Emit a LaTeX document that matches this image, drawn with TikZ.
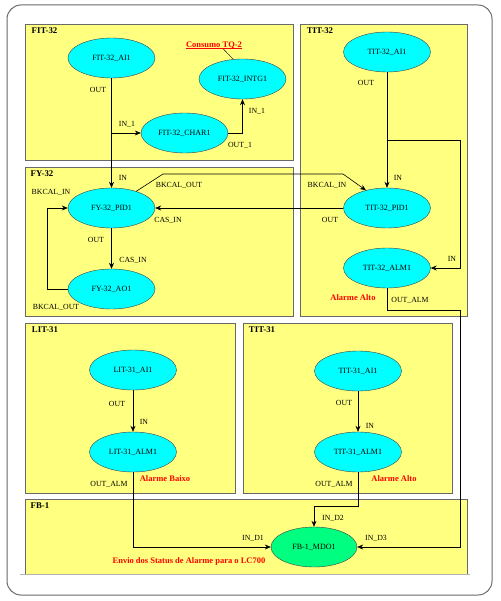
\documentclass[tikz,border=0pt]{standalone}
\usepackage{fontspec}
\setmainfont{Liberation Serif}
\usetikzlibrary{shapes.geometric,arrows.meta}
\definecolor{panelyellow}{RGB}{255,255,128}
\definecolor{blkcyan}{RGB}{0,255,255}
\definecolor{blkgreen}{RGB}{0,255,128}
\definecolor{panelgray}{RGB}{105,105,105}
\begin{document}
\begin{tikzpicture}[x=1pt,y=-1pt,
  panel/.style={fill=panelyellow, draw=panelgray, line width=0.8pt},
  blk/.style={ellipse, draw=black!75, fill=blkcyan, minimum width=87pt, minimum height=40pt, inner sep=0pt, font=\fontsize{8}{9}\selectfont},
  lbl/.style={inner sep=0pt, font=\fontsize{7.8}{9}\selectfont},
  ttl/.style={inner sep=0pt, font=\bfseries\fontsize{8.8}{10}\selectfont},
  alm/.style={inner sep=0pt, text=red, font=\bfseries\fontsize{8.5}{10}\selectfont},
  arr/.style={-{Stealth[length=6pt,width=5pt,inset=2pt]}, line width=0.6pt},
  wire/.style={line width=0.6pt}]
\useasboundingbox (0,0) rectangle (500,601);
\draw[rounded corners=14pt, draw=panelgray, line width=1pt, fill=white] (7,5) rectangle (492,595);

\draw[panel] (25,24) rectangle (293,160);
\draw[panel] (300,24) rectangle (467,316);
\draw[panel] (25,167) rectangle (293,316);
\draw[panel] (25,323) rectangle (235,493);
\draw[panel] (243,323) rectangle (452,493);
\fill[panelyellow] (25,499) rectangle (467,574);
\draw[panelgray, line width=0.8pt] (25,574) |- (467,499) -- (467,574);
\draw[gray!60] (20,574) -- (470,574);

\node[ttl] (tfit) at (44.5,31) {FIT-32};
\node[ttl] (ttit) at (320,31) {TIT-32};
\node[ttl] (tfy) at (42,174) {FY-32};
\node[ttl] (tlit) at (45,330) {LIT-31};
\node[ttl] (ttiti) at (262,330) {TIT-31};
\node[ttl] (tfb) at (40,506) {FB-1};

\node[blk] (fitai) at (111.5,58) {FIT-32\_AI1};
\node[blk] (fitintg) at (242.5,79) {FIT-32\_INTG1};
\node[blk] (fitchar) at (184.5,133) {FIT-32\_CHAR1};
\node[blk] (titai) at (387,52) {TIT-32\_AI1};
\node[blk] (fypid) at (111.5,208) {FY-32\_PID1};
\node[blk] (fyao) at (111.5,289) {FY-32\_AO1};
\node[blk] (titpid) at (387,208) {TIT-32\_PID1};
\node[blk] (titalm) at (387,268) {TIT-32\_ALM1};
\node[blk] (litai) at (133,370) {LIT-31\_AI1};
\node[blk] (litalm) at (133,452) {LIT-31\_ALM1};
\node[blk] (tiai) at (358,371) {TIT-31\_AI1};
\node[blk] (tialm) at (358,452) {TIT-31\_ALM1};
\node[blk, fill=blkgreen, minimum width=86pt] (mdo) at (314,547) {FB-1\_MDO1};

\node[alm] (consumo) at (214,45) {Consumo TQ-2};
\draw[red, line width=0.5pt] (consumo.south west) -- (consumo.south east);
\draw[wire, line width=0.4pt] ([xshift=9pt]consumo.south) -- (fitintg.115);

\coordinate (tbr) at (460,140);
\coordinate (tout) at (460,310);
\draw[arr] (fitai.south) -- (fypid.north);
\draw[arr] (fitai.south |- fitchar.west) -- (fitchar.west);
\draw[arr] (fitchar.east) -| (fitintg.south);
\draw[arr] (fypid.34) -- (163,174) -- (343,174) -- (titpid.140);
\draw[arr] (titpid.west) -- (fypid.east);
\draw[arr] (fypid.south) -- (fyao.north);
\draw[arr] (fyao.west) -- ++(-21,0) |- (fypid.west);
\draw[arr] (titai.south) -- (titpid.north);
\draw[arr] (titai.south |- tbr) -- (tbr) |- (titalm.east);
\draw[arr] (titalm.south) |- (tout) |- (mdo.east);
\draw[arr] (litai.south) -- (litalm.north);
\draw[arr] (tiai.south) -- (tialm.north);
\draw[arr] (litalm.south) |- (mdo.west);
\draw[arr] (tialm.south) -- ++(0,34) -| (mdo.north);

\node[lbl] (l1) at (98,90) {OUT};
\node[lbl] (l2) at (127,124) {IN\_1};
\node[lbl] (l3) at (257,111) {IN\_1};
\node[lbl] (l4) at (240,145) {OUT\_1};
\node[lbl] (l5) at (366,83) {OUT};
\node[lbl] (l6) at (123,178) {IN};
\node[lbl] (l7) at (179,185) {BKCAL\_OUT};
\node[lbl] (l8) at (51,192) {BKCAL\_IN};
\node[lbl] (l9) at (168,220) {CAS\_IN};
\node[lbl] (l10) at (96,240) {OUT};
\node[lbl] (l11) at (133,260) {CAS\_IN};
\node[lbl] (l12) at (56,307) {BKCAL\_OUT};
\node[lbl] (l13) at (398,178) {IN};
\node[lbl] (l14) at (327,185) {BKCAL\_IN};
\node[lbl] (l15) at (330,220) {OUT};
\node[lbl] (l16) at (452,259) {IN};
\node[lbl] (l17) at (410,300) {OUT\_ALM};
\node[alm] (a1) at (353,298) {Alarme Alto};
\node[lbl] (l18) at (117,404) {OUT};
\node[lbl] (l19) at (144,422) {IN};
\node[lbl] (l20) at (109,484) {OUT\_ALM};
\node[alm] (a2) at (165,479) {Alarme Baixo};
\node[lbl] (l21) at (344,403) {OUT};
\node[lbl] (l22) at (370,426) {IN};
\node[lbl] (l23) at (334,484) {OUT\_ALM};
\node[alm] (a3) at (394,479) {Alarme Alto};
\node[lbl] (l24) at (333,518) {IN\_D2};
\node[lbl] (l25) at (253,538) {IN\_D1};
\node[lbl] (l26) at (376,538) {IN\_D3};
\node[alm] (a4) at (189,561) {Envio dos Status de Alarme para o LC700};
\end{tikzpicture}
\end{document}
